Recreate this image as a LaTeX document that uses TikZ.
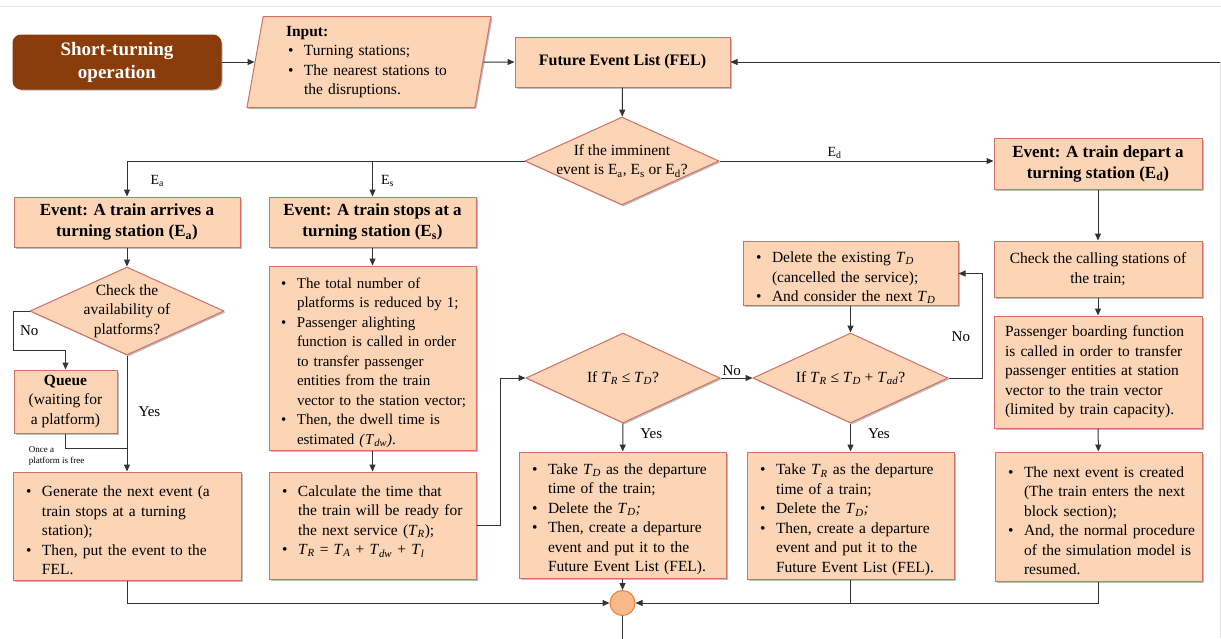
\documentclass[tikz,border=0pt]{standalone}
\usepackage{fontspec}
\setmainfont{Liberation Serif}
\usetikzlibrary{arrows.meta,positioning,shapes.geometric,shadows}
\definecolor{boxfill}{RGB}{251,213,181}
\definecolor{boxline}{RGB}{208,112,104}
\definecolor{startfill}{RGB}{138,60,10}
\definecolor{mergefill}{RGB}{248,185,138}
\definecolor{mergeline}{RGB}{237,125,49}
\newcommand{\Tv}[1]{\textit{T}\textsubscript{\textit{#1}}}
\newcommand{\Ev}[1]{E\textsubscript{#1}}
% bullet item with hanging indent (paragraph must end with \par inside the node)
\newcommand{\itm}{\par\noindent\hangindent=24pt\hangafter=1\hbox to 24pt{\hskip8pt\textbullet\hfil}}
\newcommand{\itmin}{\par\noindent\hangindent=18pt\hangafter=1\hbox to 18pt{\hskip2pt\textbullet\hfil}}
\newcommand{\nl}{\hfil\break}
\tikzset{
  block/.style={draw=boxline, line width=1pt, fill=boxfill, align=center,
    inner xsep=7pt, inner ysep=2pt, font=\fontsize{15.5}{19.5}\selectfont,
    drop shadow={shadow xshift=1.5pt, shadow yshift=-1.5pt, opacity=0.25, fill=black},
    execute at begin node={\setlength{\parindent}{0pt}\hyphenpenalty=10000\exhyphenpenalty=10000}},
  startbox/.style={block, fill=startfill, draw=startfill, rounded corners=8pt, text=white,
    font=\fontsize{19}{23}\selectfont\bfseries},
  evbox/.style={block, font=\fontsize{17}{21}\selectfont\bfseries, minimum height=50pt},
  listbox/.style={block, align=left, inner xsep=5pt},
  inputbox/.style={listbox, trapezium, trapezium left angle=78, trapezium right angle=102,
    trapezium stretches body},
  decision/.style={diamond, draw=boxline, line width=1pt, fill=boxfill, inner sep=0pt,
    drop shadow={shadow xshift=1.5pt, shadow yshift=-1.5pt, opacity=0.25, fill=black}},
  dtext/.style={align=center, font=\fontsize{15.5}{19.5}\selectfont},
  arr/.style={-{Triangle[length=7pt,width=6pt]}, line width=1pt, draw=black!80},
  link/.style={line width=1pt, draw=black!80},
  lab/.style={font=\fontsize{15}{18}\selectfont, inner sep=2pt},
  elab/.style={font=\fontsize{14}{17}\selectfont, inner sep=2pt},
  tinylab/.style={font=\fontsize{9}{11}\selectfont, align=left, inner sep=0pt}
}

\begin{document}
\begin{tikzpicture}[x=1pt, y=-1pt]
  \useasboundingbox (0,0) rectangle (1221,638);
  \draw[black!10] (0,6) -- (1221,6);

  % top row
  \node[startbox, minimum width=208pt, minimum height=54pt] (short) at (117,62) {\raisebox{-2pt}{Short-turning}\\\raisebox{-2pt}{operation}};
  \node[inputbox, minimum width=244pt, minimum height=91pt, text width=166pt] (inp) at (369,62)
    {\textbf{Input:}\itmin Turning stations;\itmin The nearest stations to\nl the disruptions.\par};
  \node[block, font=\fontsize{16}{19}\selectfont\bfseries, minimum width=215pt, minimum height=50pt] (fel) at (622.5,62) {Future Event List (FEL)};
  \coordinate (back) at (1220,62);

  \node[decision, minimum width=194pt, minimum height=88pt,
    label={[dtext]center:{If the imminent\\event is \Ev{a}, \Ev{s} or \Ev{d}?}}] (imminent) at (622,161) {};

  % event boxes
  \node[evbox, minimum width=226pt] (evA) at (127,222) {Event: A train arrives a\\turning station (\Ev{a})};
  \node[evbox, minimum width=207pt] (evS) at (372.5,222) {Event: A train stops at a\\turning station (\Ev{s})};
  \node[evbox, minimum width=208pt, minimum height=51pt] (evD) at (1098,163.5) {Event: A train depart a\\turning station (\Ev{d})};

  % arrival branch
  \node[decision, minimum width=194pt, minimum height=88pt,
    label={[dtext]center:{Check the\\availability of\\platforms?}}] (avail) at (127,311) {};
  \node[block, inner xsep=2pt, minimum width=103pt, minimum height=63pt] (queue) at (65.5,401.5) {\textbf{Queue}\\(waiting for\\a platform)};
  \node[tinylab, below=13pt of queue.south, xshift=-9pt] (freeLab) {Once a\\platform is free};
  \node[listbox, text width=218pt, minimum height=108pt] (genA) at (127,526)
    {\itm Generate the next event (a\nl train stops at a turning\nl station);\itm Then, put the event to the\nl FEL.\par};

  % stop branch
  \node[listbox, inner xsep=4pt, text width=199pt, minimum height=184pt, font=\fontsize{15}{19.5}\selectfont] (alight) at (372.5,358)
    {\itm The total number of\nl platforms is reduced by 1;\itm Passenger alighting\nl function is called in order\nl to transfer passenger\nl entities from the train\nl vector to the station vector;\itm Then, the dwell time is\nl estimated \textit{(}\Tv{dw}\textit{)}.\par};
  \node[listbox, text width=197pt, minimum height=107pt] (ready) at (372.5,525.5)
    {\itm Calculate the time that\nl the train will be ready for\nl the next service (\Tv{R});\itm \Tv{R} = \Tv{A} + \Tv{dw} + \Tv{l}\par\mbox{}\par};

  \node[decision, minimum width=194pt, minimum height=90pt,
    label={[dtext]center:{If \Tv{R} ≤ \Tv{D}?}}] (checkR) at (623,378) {};
  \node[decision, minimum width=195pt, minimum height=90pt,
    label={[dtext]center:{If \Tv{R} ≤ \Tv{D} + \Tv{ad}?}}] (checkAd) at (850.5,378) {};
  \node[listbox, text width=205pt, minimum height=63pt] (cancel) at (850.5,273.5)
    {\itm Delete the existing \Tv{D}\nl (cancelled the service);\itm And consider the next \Tv{D}\par};
  \node[listbox, text width=197pt, minimum height=126pt] (depTD) at (622.5,515)
    {\itm Take \Tv{D} as the departure\nl time of the train;\itm Delete the \Tv{D}\textit{;}\itm Then, create a departure\nl event and put it to the\nl Future Event List (FEL).\par};
  \node[listbox, text width=197pt, minimum height=127pt] (depTR) at (850.5,515.5)
    {\itm Take \Tv{R} as the departure\nl time of a train;\itm Delete the \Tv{D}\textit{;}\itm Then, create a departure\nl event and put it to the\nl Future Event List (FEL).\par};

  % departure branch
  \node[block, minimum width=208pt, minimum height=56pt] (calling) at (1098,269) {Check the calling stations of\\the train;};
  \node[listbox, inner xsep=11pt, text width=186pt, minimum height=112pt] (boarding) at (1098,372)
    {Passenger boarding function\nl is called in order to transfer\nl passenger entities at station\nl vector to the train vector\nl (limited by train capacity).\par};
  \node[listbox, text width=197pt, minimum height=129pt] (nextEv) at (1098.5,516.5)
    {\itm The next event is created\nl (The train enters the next\nl block section);\itm And, the normal procedure\nl of the simulation model is\nl resumed.\par};

  \node[circle, draw=mergeline, fill=mergefill, line width=1pt, minimum size=25pt, inner sep=0pt] (merge) at (622.5,603) {};
  \coordinate (exit) at (622.5,640);

  % connectors
  \draw[arr] (short) -- (inp);
  \draw[arr] (inp) -- (fel);
  \draw[arr] (back) -- (fel);
  \draw[black!12] (back) -- (1220,638);
  \draw[arr] (fel) -- (imminent);
  \draw[arr] (imminent.west) -| node[pos=0.78, right=21pt, elab] {\Ev{a}} (evA.north);
  \draw[arr] (imminent.west) -| node[pos=0.78, right=6pt, elab] {\Ev{s}} (evS.north);
  \draw[arr] (imminent.east) -- node[pos=0.42, above, elab] {\Ev{d}} (imminent.east -| evD.west);

  \draw[arr] (evA) -- (avail);
  \draw[arr] (avail.west) -| node[pos=0.75, right=4pt, lab] {No} ([yshift=19pt]queue.north west) -| (queue.north);
  \draw[arr] (avail) -- node[pos=0.48, right=9pt, lab] {Yes} (genA);
  \draw[link] (queue.south) |- ([yshift=23pt]genA.north);

  \draw[arr] (evS) -- (alight);
  \draw[arr] (alight) -- (ready);
  \draw[arr] (ready.east) -- ++(24,0) |- (checkR.west);
  \draw[arr] (checkR) -- node[pos=0.35, right=15pt, lab] {Yes} (depTD);
  \draw[arr] (checkR) -- node[pos=0.35, above, lab] {No} (checkAd);
  \draw[arr] (checkAd) -- node[pos=0.35, right=15pt, lab] {Yes} (depTR);
  \draw[arr] (checkAd.east) -- ++(34,0) |- node[pos=0.2, left=10pt, lab] {No} (cancel.east);
  \draw[arr] (cancel) -- (checkAd);

  \draw[arr] (evD) -- (calling);
  \draw[arr] (calling) -- (boarding);
  \draw[arr] (boarding) -- (nextEv);

  \draw[arr] (genA.south) |- (merge.west);
  \draw[arr] (depTD) -- (merge);
  \draw[link] (depTR.south) -- (depTR.south |- merge.east);
  \draw[arr] (nextEv.south) |- (merge.east);
  \draw[link] (merge) -- (exit);
\end{tikzpicture}
\end{document}
